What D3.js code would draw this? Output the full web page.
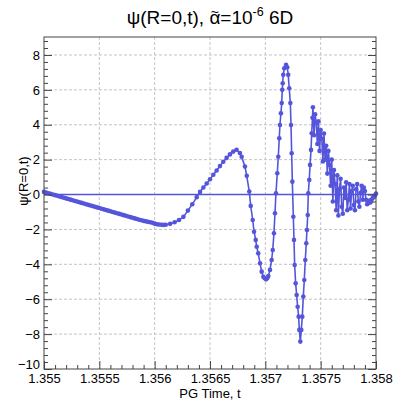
<!DOCTYPE html>
<html>
<head>
<meta charset="utf-8">
<script src="https://cdn.jsdelivr.net/npm/d3@7/dist/d3.min.js"></script>
<style>
  html, body { margin: 0; padding: 0; background: #fff; }
  svg { display: block; font-family: "Liberation Sans", Arial, Helvetica, sans-serif; }
</style>
</head>
<body>
<svg id="chart" width="393" height="404"></svg>
<script>
// Central scalar field psi(R=0,t) sampled at adaptive time steps
const times = [
  1.35500,1.35502,1.35504,1.35506,1.35508,1.35510,1.35512,1.35514,1.35516,1.35518,
  1.35520,1.35522,1.35524,1.35526,1.35528,1.35530,1.35532,1.35534,1.35536,1.35538,
  1.35540,1.35542,1.35544,1.35546,1.35548,1.35550,1.35552,1.35554,1.35556,1.35558,
  1.35560,1.35562,1.35564,1.35566,1.35568,1.35570,1.35572,1.35574,1.35576,1.35578,
  1.35580,1.35582,1.35584,1.35586,1.35588,1.35590,1.35592,1.35594,1.35596,1.35598,
  1.35600,1.35602,1.35604,1.35606,1.35608,
  1.35610,1.35614,1.35618,1.35622,1.35626,1.35630,1.35634,1.35638,
  1.35641,1.35644,1.35647,1.35650,1.35653,1.35656,1.35659,1.35662,1.35665,1.35668,
  1.35671,1.35674,1.35677,
  1.356786,1.356816,1.356832,1.356855,1.356868,1.356886,1.356898,1.356913,1.356922,
  1.356936,1.356952,1.356967,1.356982,1.356994,1.357006,1.357017,1.357027,1.357042,
  1.357057,1.357067,1.357078,1.357087,1.357096,1.357108,1.357117,1.357126,1.357132,
  1.357141,1.357148,1.357153,1.357157,1.357162,1.357171,1.357187,1.357198,1.357207,
  1.357216,1.357226,1.357232,1.357238,1.357244,1.357253,1.357259,1.357265,1.357274,
  1.357283,1.357292,1.357301,1.357307,1.357316,1.357325,1.357334,1.357343,1.357352,
  1.357361,1.357370,1.357376,1.357383,1.357388,1.357397,1.357404,1.357413,1.357419,
  1.357426,
  1.35743,1.35744,1.35745,1.35746,1.35747,1.35748,1.35749,1.35750,1.35751,1.35752,
  1.35753,1.35754,1.35755,1.35756,1.35757,1.35758,1.35759,1.35760,1.35761,1.35762,
  1.35763,1.35764,1.35765,1.35766,1.35767,1.35768,1.35769,1.35770,1.35771,1.35772,
  1.35773,1.35774,1.35775,1.35776,1.35777,1.35778,1.35779,1.35780,1.35781,1.35782,
  1.35783,1.35784,1.35785,1.35786,1.35787,1.35788,1.35789,1.35790,1.35791,1.35792,
  1.35793,1.35794,1.35795,1.35796,1.35797,1.35798,1.35799,1.35800
];
const psiValues = [
  0.15,0.113,0.076,0.039,0.002,-0.035,-0.072,-0.109,-0.146,-0.183,
  -0.22,-0.257,-0.294,-0.331,-0.368,-0.405,-0.442,-0.479,-0.516,-0.553,
  -0.59,-0.627,-0.664,-0.701,-0.738,-0.775,-0.812,-0.849,-0.886,-0.923,
  -0.96,-0.997,-1.034,-1.071,-1.108,-1.145,-1.182,-1.219,-1.256,-1.293,
  -1.33,-1.367,-1.404,-1.441,-1.475,-1.507,-1.537,-1.565,-1.59,-1.62,
  -1.67,-1.70,-1.72,-1.73,-1.74,
  -1.73,-1.68,-1.59,-1.46,-1.28,-0.92,-0.56,-0.15,
  0.15,0.40,0.63,0.88,1.13,1.38,1.63,1.88,2.10,2.30,
  2.46,2.57,2.38,
  2.17,1.60,1.07,0.17,-0.65,-1.46,-2.13,-2.60,-2.99,
  -3.37,-3.94,-4.42,-4.71,-4.80,-4.86,-4.80,-4.67,-4.32,
  -3.75,-3.18,-2.22,-1.07,0.07,1.22,2.17,3.23,3.99,
  4.66,5.24,6.00,6.38,6.86,7.24,7.43,7.30,6.86,
  6.09,5.24,3.99,2.37,0.74,-1.27,-2.60,-4.04,-5.09,
  -5.76,-6.43,-7.00,-7.76,-8.43,-7.76,-7.00,-5.85,-4.90,
  -3.75,-2.79,-2.03,-1.17,0.07,0.84,1.70,2.56,3.51,
  4.40,
  5.00,3.40,4.60,4.10,2.90,4.20,2.50,3.70,3.20,1.90,
  3.50,2.00,2.80,1.20,2.50,1.70,0.50,2.00,-0.40,1.40,
  0.60,-0.90,1.10,-1.20,0.30,0.90,-0.70,-1.10,0.40,-0.20,
  0.70,-0.90,-0.30,0.60,-0.80,0.20,0.50,-0.60,-0.90,0.30,
  0.60,-0.40,-0.70,0.10,0.50,-0.30,0.40,0.20,-0.30,-0.55,
  -0.50,-0.35,-0.45,-0.30,-0.20,-0.15,-0.05,0.05
];

const xMajor = [1.355, 1.3555, 1.356, 1.3565, 1.357, 1.3575, 1.358];
const xLabels = ["1.355", "1.3555", "1.356", "1.3565", "1.357", "1.3575", "1.358"];
const yMajor = [-10, -8, -6, -4, -2, 0, 2, 4, 6, 8];
const xDomain = [1.355, 1.358];
const yDomain = [-10, 9.03];
const referenceLevel = [0];

const series = times.map((t, i) => ({ t, v: psiValues[i] }));

const svg = d3.select("#chart");
const frame = { left: 44, right: 376, top: 37, bottom: 369 };
const color = "#5555dc";

const x = d3.scaleLinear().domain(xDomain).range([frame.left, frame.right]);
const y = d3.scaleLinear().domain(yDomain).range([frame.bottom, frame.top]);

// Minor tick positions
const xMinor = d3.range(0, 31).map(i => 1.355 + i * 0.0001).filter(v => !xMajor.some(m => Math.abs(m - v) < 1e-9));
const yMinor = d3.range(-10, 9.03, 0.4).filter(v => !yMajor.some(m => Math.abs(m - v) < 1e-6));

// Dashed grid
const grid = svg.append("g").attr("stroke", "#c4c4c4").attr("stroke-width", 1).attr("stroke-dasharray", "3,2");
grid.selectAll("line.vx").data(xMajor.slice(1, -1)).join("line")
  .attr("x1", d => x(d)).attr("x2", d => x(d)).attr("y1", frame.top).attr("y2", frame.bottom);
grid.selectAll("line.hy").data(yMajor.slice(1)).join("line")
  .attr("x1", frame.left).attr("x2", frame.right).attr("y1", d => y(d)).attr("y2", d => y(d));

// Horizontal reference at psi = 0
svg.append("g").selectAll("line").data(referenceLevel).join("line")
  .attr("x1", frame.left).attr("x2", frame.right)
  .attr("y1", d => y(d)).attr("y2", d => y(d))
  .attr("stroke", color).attr("stroke-width", 1.6);

// Curve and markers
const line = d3.line().x(d => x(d.t)).y(d => y(d.v));
svg.append("path").datum(series)
  .attr("fill", "none").attr("stroke", color).attr("stroke-width", 1.6)
  .attr("stroke-linejoin", "round").attr("d", line);
svg.append("g").attr("fill", color).selectAll("circle").data(series).join("circle")
  .attr("cx", d => x(d.t)).attr("cy", d => y(d.v)).attr("r", 2.3);

// Frame
svg.append("rect").attr("x", frame.left).attr("y", frame.top)
  .attr("width", frame.right - frame.left).attr("height", frame.bottom - frame.top)
  .attr("fill", "none").attr("stroke", "#444").attr("stroke-width", 1);

function styleAxis(g) {
  g.select(".domain").remove();
  g.selectAll(".tick line").attr("stroke", "#444");
  g.selectAll("text").attr("fill", "#000").attr("font-size", 13)
    .attr("font-family", "Liberation Sans, Arial, sans-serif");
}

// Bottom axis
svg.append("g").attr("transform", `translate(0,${frame.bottom})`)
  .call(d3.axisBottom(x).tickValues(xMajor).tickFormat((d, i) => xLabels[i]).tickSize(-8).tickSizeOuter(0).tickPadding(5))
  .call(styleAxis);
svg.append("g").attr("transform", `translate(0,${frame.bottom})`)
  .call(d3.axisBottom(x).tickValues(xMinor).tickFormat("").tickSize(-4).tickSizeOuter(0))
  .call(styleAxis);

// Left axis
const yAxisG = svg.append("g").attr("transform", `translate(${frame.left},0)`)
  .call(d3.axisLeft(y).tickValues(yMajor).tickFormat(d3.format("d")).tickSize(-8).tickSizeOuter(0).tickPadding(4))
  .call(styleAxis);
// lowest label sits a little above its tick so it clears the time labels
yAxisG.selectAll(".tick").filter(d => d === yDomain[0]).select("text").attr("dy", "-0.05em");
svg.append("g").attr("transform", `translate(${frame.left},0)`)
  .call(d3.axisLeft(y).tickValues(yMinor).tickFormat("").tickSize(-4).tickSizeOuter(0))
  .call(styleAxis);

// Right axis ticks (no labels)
svg.append("g").attr("transform", `translate(${frame.right},0)`)
  .call(d3.axisRight(y).tickValues(yMajor).tickFormat("").tickSize(-8).tickSizeOuter(0))
  .call(styleAxis);
svg.append("g").attr("transform", `translate(${frame.right},0)`)
  .call(d3.axisRight(y).tickValues(yMinor).tickFormat("").tickSize(-4).tickSizeOuter(0))
  .call(styleAxis);

// Axis titles
svg.append("text").attr("x", (frame.left + frame.right) / 2).attr("y", 398)
  .attr("text-anchor", "middle").attr("font-size", 13).text("PG Time, t");
svg.append("text").attr("transform", "translate(28,181) rotate(-90)")
  .attr("text-anchor", "middle").attr("font-size", 13).text("ψ(R=0,t)");

// Title, with a tilde accent placed over the alpha
const title = svg.append("text").attr("x", 210).attr("y", 24)
  .attr("text-anchor", "middle").attr("font-size", 19);
title.append("tspan").text("ψ(R=0,t), α=10");
title.append("tspan").attr("font-size", 12.5).attr("dy", -8).text("-6");
title.append("tspan").attr("dy", 8).text(" 6D");
const alphaIndex = "ψ(R=0,t), ".length;
const tn = title.node();
const a0 = tn.getStartPositionOfChar(alphaIndex).x;
const a1 = tn.getEndPositionOfChar(alphaIndex).x;
title.append("tspan").attr("x", (a0 + a1) / 2).attr("y", 17)
  .attr("font-size", 14).text("~");
</script>
</body>
</html>
